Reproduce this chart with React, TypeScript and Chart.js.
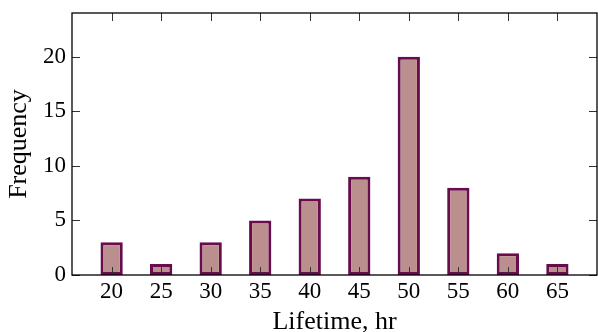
import React, { useEffect, useRef } from "react";
import { Chart, registerables } from "chart.js";

Chart.register(...registerables);

const lifetimes = [20, 25, 30, 35, 40, 45, 50, 55, 60, 65];
const frequencies = [3, 1, 3, 5, 7, 9, 20, 8, 2, 1];
const xTickValues = [20, 25, 30, 35, 40, 45, 50, 55, 60, 65];
const yTickValues = [0, 5, 10, 15, 20];

const FONT = "'Liberation Serif', 'Times New Roman', serif";

const framePlugin = {
  id: "frameTicks",
  afterDatasetsDraw(chart: any) {
    const { ctx, chartArea } = chart;
    const { left, right, top, bottom } = chartArea;
    const xs = chart.scales.x;
    const ys = chart.scales.y;
    const len = 8;
    ctx.save();
    ctx.strokeStyle = "#333333";
    ctx.lineWidth = 1;
    ctx.beginPath();
    xs.ticks.forEach((t: any) => {
      const px = Math.round(xs.getPixelForValue(t.value)) + 0.5;
      ctx.moveTo(px, bottom);
      ctx.lineTo(px, bottom - len);
      ctx.moveTo(px, top);
      ctx.lineTo(px, top + len);
    });
    ys.ticks.forEach((t: any) => {
      const py = Math.round(ys.getPixelForValue(t.value)) + 0.5;
      ctx.moveTo(left, py);
      ctx.lineTo(left + len, py);
      ctx.moveTo(right, py);
      ctx.lineTo(right - len, py);
    });
    ctx.stroke();
    ctx.strokeStyle = "#000000";
    ctx.lineWidth = 1.3;
    ctx.strokeRect(left, top, right - left, bottom - top);
    ctx.restore();
  },
};

export default function App() {
  const ref = useRef<HTMLCanvasElement | null>(null);
  useEffect(() => {
    if (!ref.current) return;
    const chart = new Chart(ref.current, {
      type: "bar",
      data: {
        datasets: [
          {
            data: lifetimes.map((x, i) => ({ x, y: frequencies[i] })),
            backgroundColor: "#bc8f8f",
            borderColor: "#680c4e",
            borderWidth: 3,
            borderSkipped: false,
            categoryPercentage: 1,
            barPercentage: 0.45,
          } as any,
        ],
      },
      options: {
        animation: false,
        responsive: false,
        layout: { padding: { top: 13, right: 1, left: 0, bottom: 0 } },
        plugins: { legend: { display: false }, tooltip: { enabled: false } },
        scales: {
          x: {
            type: "linear",
            min: 16,
            max: 69,
            offset: false,
            grid: { display: false, drawTicks: false },
            border: { display: false },
            afterBuildTicks: (s: any) => {
              s.ticks = xTickValues.map((v) => ({ value: v }));
            },
            afterFit: (s: any) => {
              s.height = 57;
              s.paddingLeft = 0;
              s.paddingRight = 0;
            },
            ticks: {
              color: "#000",
              font: { family: FONT, size: 23 },
              padding: 3,
              maxRotation: 0,
              autoSkip: false,
            },
            title: {
              display: true,
              text: "Lifetime, hr",
              color: "#000",
              font: { family: FONT, size: 26, lineHeight: 1 },
              padding: { top: 0, bottom: -3 },
            },
          },
          y: {
            min: 0,
            max: 24,
            grid: { display: false, drawTicks: false },
            border: { display: false },
            afterBuildTicks: (s: any) => {
              s.ticks = yTickValues.map((v) => ({ value: v }));
            },
            afterFit: (s: any) => {
              s.width = 72;
              s.paddingTop = 0;
              s.paddingBottom = 0;
            },
            ticks: {
              color: "#000",
              font: { family: FONT, size: 23 },
              padding: 6,
            },
            title: {
              display: true,
              text: "Frequency",
              color: "#000",
              font: { family: FONT, size: 26, lineHeight: 1 },
              padding: { top: 6, bottom: 0 },
            },
          },
        },
      },
      plugins: [framePlugin],
    });
    return () => chart.destroy();
  }, []);
  return (
    <div style={{ position: "absolute", left: 0, top: 0, width: 598, height: 332 }}>
      <canvas ref={ref} width={598} height={332} style={{ display: "block" }} />
    </div>
  );
}
